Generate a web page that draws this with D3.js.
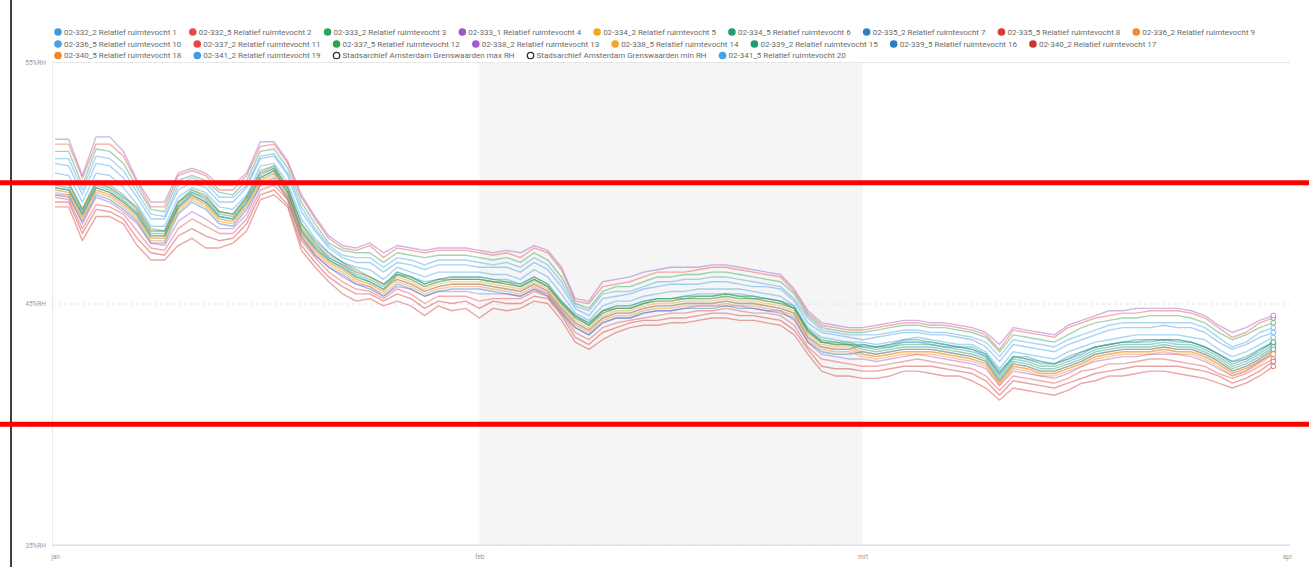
<!DOCTYPE html>
<html><head><meta charset="utf-8">
<script src="https://cdn.jsdelivr.net/npm/d3@7"></script>
<style>
body{margin:0;background:#fff;}
svg{display:block;font-family:Roboto,"Noto Sans",sans-serif;}
</style>
</head><body>
<svg id="chart" width="1309" height="567"></svg>
<script>
// ---------- categories / ticks ----------
const firstDay = new Date(2023, 0, 1);
const lastDayExcl = new Date(2023, 3, 1);
const monthTicks = [new Date(2023,0,1), new Date(2023,1,1), new Date(2023,2,1), new Date(2023,3,1)];
const monthLabels = ["jan", "feb", "mrt", "apr"];
const yTicks = [35, 40, 45, 50, 55];
const yTickLabels = ["35%RH", "40%RH", "45%RH", "50%RH", "55%RH"];

const seriesNames = [
 "02-332_2 Relatief ruimtevocht 1","02-332_5 Relatief ruimtevocht 2","02-333_2 Relatief ruimtevocht 3",
 "02-333_1 Relatief ruimtevocht 4","02-334_2 Relatief ruimtevocht 5","02-334_5 Relatief ruimtevocht 6",
 "02-335_2 Relatief ruimtevocht 7","02-335_5 Relatief ruimtevocht 8","02-336_2 Relatief ruimtevocht 9",
 "02-336_5 Relatief ruimtevocht 10","02-337_2 Relatief ruimtevocht 11","02-337_5 Relatief ruimtevocht 12",
 "02-338_2 Relatief ruimtevocht 13","02-338_5 Relatief ruimtevocht 14","02-339_2 Relatief ruimtevocht 15",
 "02-339_5 Relatief ruimtevocht 16","02-340_2 Relatief ruimtevocht 17","02-340_5 Relatief ruimtevocht 18",
 "02-341_2 Relatief ruimtevocht 19","02-341_5 Relatief ruimtevocht 20"];
const seriesColors = ["#3f9be0","#e84a4a","#2fa35a","#9b59c8","#f5a524","#1f9e6e","#2f7ec4","#d83a34","#f28a2a","#4aa0e0",
 "#e84646","#2ea152","#a15ad0","#f2a330","#1b9b72","#2a7bc0","#c93530","#ef8a2b","#3d9be6","#3ea5e6"];
const limitNames = ["Stadsarchief Amsterdam Grenswaarden max RH", "Stadsarchief Amsterdam Grenswaarden min RH"];
const limitMax = 50;
const limitMin = 40;

// ---------- series values (%RH, one per day, 1 jan .. 31 mrt) ----------
const s1 = [50.1,50.0,48.9,50.1,49.9,49.5,48.9,48.0,48.0,49.2,49.6,49.4,48.8,48.7,49.4,50.4,50.6,49.8,48.3,47.5,46.9,46.6,46.3,46.1,45.8,
 46.3,46.1,45.9,46.0,46.1,46.1,46.1,46.0,46.0,45.8,46.1,45.8,45.1,44.5,44.2,44.7,44.9,44.9,45.1,45.2,45.2,45.3,45.4,45.4,45.4,45.4,45.3,45.2,45.1,44.8,43.9,43.4,43.3,43.3,
 43.2,43.2,43.2,43.4,43.4,43.3,43.2,43.2,43.1,42.8,42.1,42.8,42.7,42.6,42.5,42.7,43.0,43.2,43.3,43.4,43.4,43.5,43.5,43.5,43.4,43.2,42.9,42.6,42.7,43.1,43.4];
const s2 = [51.6,51.6,50.2,51.6,51.6,51.1,50.0,49.0,49.0,50.3,50.5,50.3,49.7,49.7,50.3,51.5,51.6,50.8,49.4,48.5,47.7,47.3,47.2,47.4,46.9,
 47.3,47.2,47.1,47.2,47.2,47.2,47.1,47.0,47.1,46.9,47.3,47.1,46.4,45.1,45.0,45.7,45.8,45.9,46.1,46.3,46.3,46.3,46.4,46.5,46.5,46.4,46.3,46.2,46.1,45.5,44.6,44.1,44.0,43.9,
 43.9,44.0,44.1,44.2,44.2,44.1,44.1,44.0,43.9,43.7,43.1,43.9,43.8,43.7,43.6,44.0,44.2,44.4,44.5,44.6,44.6,44.7,44.7,44.7,44.6,44.4,44.0,43.6,43.8,44.2,44.4];
const s3 = [51.3,51.3,49.9,51.4,51.3,50.8,49.8,48.9,48.8,50.1,50.3,50.1,49.6,49.5,50.1,51.3,51.4,50.6,49.2,48.3,47.5,47.2,47.1,47.1,46.7,
 47.1,47.0,46.9,47.0,47.0,47.0,46.9,46.8,46.9,46.7,47.1,46.8,46.1,45.0,44.8,45.5,45.7,45.7,45.9,46.1,46.1,46.2,46.2,46.3,46.3,46.2,46.1,46.0,45.9,45.4,44.5,44.0,43.9,43.8,
 43.8,43.9,44.0,44.1,44.1,44.0,44.0,43.9,43.8,43.6,43.0,43.7,43.6,43.5,43.4,43.7,44.0,44.2,44.3,44.4,44.4,44.5,44.5,44.5,44.4,44.2,43.8,43.5,43.7,44.0,44.2];
const s4 = [51.8,51.8,50.3,51.9,51.9,51.3,50.1,49.2,49.2,50.4,50.6,50.4,49.9,49.9,50.4,51.7,51.7,50.9,49.5,48.6,47.8,47.4,47.3,47.5,47.1,
 47.4,47.3,47.2,47.3,47.3,47.3,47.2,47.1,47.2,47.1,47.4,47.2,46.5,45.2,45.1,45.9,46.0,46.1,46.3,46.4,46.5,46.5,46.5,46.6,46.6,46.5,46.4,46.3,46.2,45.6,44.7,44.2,44.1,44.0,
 44.0,44.1,44.2,44.3,44.3,44.2,44.2,44.1,44.0,43.8,43.3,44.0,43.9,43.8,43.7,44.1,44.3,44.5,44.7,44.7,44.8,44.8,44.8,44.8,44.7,44.5,44.1,43.8,44.0,44.3,44.5];
const s5 = [49.7,49.6,48.6,49.7,49.5,49.1,48.6,47.7,47.7,48.9,49.4,49.1,48.5,48.4,49.1,50.1,50.4,49.5,47.9,47.2,46.7,46.4,46.0,45.8,45.5,
 46.2,46.0,45.7,45.9,46.0,46.0,46.0,45.9,45.8,45.7,46.0,45.7,45.0,44.4,44.1,44.6,44.8,44.8,45.0,45.1,45.1,45.2,45.2,45.2,45.3,45.2,45.2,45.1,45.0,44.8,43.8,43.4,43.3,43.3,
 42.9,42.8,42.9,43.0,43.0,43.0,42.9,42.8,42.7,42.5,41.7,42.4,42.3,42.1,42.1,42.3,42.5,42.8,42.9,43.0,43.0,43.0,43.1,43.0,43.0,42.8,42.5,42.1,42.3,42.6,43.0];
const s6 = [49.9,49.8,48.8,49.9,49.7,49.3,48.8,47.9,47.9,49.1,49.6,49.3,48.7,48.6,49.3,50.3,50.6,49.7,48.1,47.4,46.9,46.6,46.2,46.0,45.7,
 46.3,46.1,45.8,46.0,46.1,46.1,46.1,46.0,45.9,45.8,46.1,45.8,45.1,44.5,44.2,44.7,44.9,44.9,45.1,45.2,45.2,45.3,45.3,45.3,45.4,45.3,45.3,45.2,45.1,44.9,43.9,43.5,43.4,43.4,
 43.2,43.1,43.2,43.3,43.3,43.3,43.2,43.1,43.0,42.8,42.0,42.7,42.6,42.4,42.4,42.6,42.8,43.1,43.2,43.3,43.3,43.3,43.4,43.3,43.3,43.1,42.8,42.4,42.6,42.9,43.3];
const s7 = [49.8,49.7,48.7,49.8,49.6,49.2,48.7,47.8,47.8,49.0,49.5,49.2,48.6,48.5,49.2,50.2,50.5,49.6,48.0,47.3,46.8,46.5,46.1,45.9,45.6,
 46.0,45.8,45.5,45.7,45.8,45.8,45.8,45.7,45.6,45.5,45.8,45.5,44.8,44.2,43.9,44.4,44.6,44.6,44.8,44.9,44.9,45.0,45.0,45.0,45.1,45.0,45.0,44.9,44.8,44.6,43.6,43.2,43.1,43.1,
 43.3,43.2,43.3,43.4,43.4,43.4,43.3,43.2,43.1,42.9,42.1,42.8,42.7,42.5,42.5,42.7,42.9,43.2,43.3,43.4,43.4,43.4,43.5,43.4,43.4,43.2,42.9,42.5,42.7,43.0,43.4];
const s8 = [49.0,49.0,47.6,48.6,48.6,48.3,47.4,46.8,46.8,47.4,47.7,47.3,47.3,47.5,48.0,49.3,49.5,49.0,47.2,46.5,45.9,45.4,45.1,45.2,44.9,
 45.1,44.9,44.5,44.9,44.7,44.8,44.4,44.8,44.7,44.8,45.1,45.0,44.3,43.4,43.1,43.5,43.8,44.0,44.1,44.1,44.2,44.2,44.3,44.4,44.4,44.3,44.3,44.2,44.1,43.7,42.9,42.2,42.0,42.0,
 41.9,41.9,42.0,42.2,42.2,42.1,42.0,42.0,41.8,41.5,41.0,41.5,41.4,41.3,41.2,41.4,41.7,41.8,42.0,42.0,42.1,42.2,42.2,42.1,42.0,41.9,41.7,41.5,41.7,42.0,42.4];
const s9 = [50.0,49.9,48.9,50.0,49.8,49.4,48.9,48.0,48.0,49.2,49.7,49.4,48.8,48.7,49.4,50.4,50.7,49.8,48.2,47.5,47.0,46.7,46.3,46.1,45.8,
 46.0,45.8,45.5,45.7,45.8,45.8,45.8,45.7,45.6,45.5,45.8,45.5,44.8,44.2,43.9,44.4,44.6,44.6,44.8,44.9,44.9,45.0,45.0,45.0,45.1,45.0,45.0,44.9,44.8,44.6,43.6,43.2,43.1,43.1,
 42.9,42.8,42.9,43.0,43.0,43.0,42.9,42.8,42.7,42.5,41.7,42.4,42.3,42.1,42.1,42.3,42.5,42.8,42.9,43.0,43.0,43.0,43.1,43.0,43.0,42.8,42.5,42.1,42.3,42.6,43.0];
const s10 = [51.0,51.0,49.7,51.1,51.0,50.5,49.6,48.7,48.6,49.9,50.2,50.0,49.4,49.4,49.9,51.1,51.2,50.4,49.0,48.1,47.4,47.0,46.9,46.9,46.5,
 46.9,46.8,46.6,46.8,46.8,46.8,46.7,46.6,46.7,46.5,46.9,46.6,45.9,44.9,44.7,45.4,45.5,45.5,45.7,45.9,45.9,46.0,46.0,46.1,46.1,46.0,45.9,45.8,45.7,45.2,44.4,43.9,43.8,43.7,
 43.7,43.7,43.8,43.9,43.9,43.8,43.8,43.7,43.6,43.4,42.8,43.5,43.4,43.3,43.2,43.5,43.7,43.9,44.1,44.2,44.2,44.2,44.2,44.2,44.2,44.0,43.6,43.2,43.4,43.8,44.0];
const s11 = [49.4,49.3,48.1,49.1,49.0,48.7,48.0,47.3,47.2,48.1,48.5,48.2,47.9,47.9,48.5,49.7,49.9,49.3,47.6,46.9,46.3,45.9,45.6,45.5,45.2,
 45.6,45.4,45.0,45.3,45.3,45.3,45.1,45.2,45.2,45.2,45.5,45.3,44.6,43.8,43.5,44.0,44.2,44.3,44.4,44.5,44.6,44.6,44.7,44.7,44.8,44.7,44.6,44.6,44.5,44.1,43.2,42.7,42.6,42.5,
 42.4,42.4,42.5,42.6,42.7,42.6,42.5,42.4,42.3,42.0,41.4,42.0,41.9,41.8,41.7,41.9,42.2,42.3,42.5,42.5,42.6,42.7,42.7,42.6,42.5,42.4,42.1,41.9,42.1,42.4,42.7];
const s12 = [50.0,50.0,48.9,50.0,49.8,49.4,49.0,48.1,48.0,49.2,49.7,49.5,48.8,48.7,49.4,50.5,50.7,49.8,48.3,47.6,47.1,46.7,46.4,46.1,45.8,
 46.2,46.1,45.8,46.0,46.0,46.0,46.0,45.9,45.9,45.7,46.0,45.7,45.0,44.5,44.1,44.7,44.8,44.8,45.0,45.2,45.2,45.2,45.3,45.3,45.4,45.3,45.2,45.2,45.1,44.8,43.9,43.4,43.4,43.3,
 43.3,43.2,43.3,43.5,43.5,43.4,43.3,43.2,43.2,42.9,42.2,42.8,42.8,42.6,42.5,42.8,43.0,43.2,43.3,43.4,43.5,43.5,43.5,43.5,43.4,43.2,42.9,42.6,42.8,43.1,43.4];
const s13 = [49.5,49.5,48.3,49.4,49.2,48.8,48.3,47.5,47.4,48.4,48.8,48.5,48.1,48.1,48.7,49.9,50.1,49.4,47.8,47.0,46.5,46.1,45.8,45.7,45.3,
 45.7,45.6,45.3,45.5,45.5,45.5,45.4,45.4,45.4,45.3,45.6,45.4,44.7,44.0,43.7,44.2,44.4,44.4,44.6,44.7,44.7,44.8,44.9,44.9,44.9,44.9,44.8,44.7,44.7,44.3,43.4,42.9,42.8,42.7,
 42.7,42.6,42.7,42.8,42.9,42.8,42.7,42.6,42.5,42.3,41.6,42.2,42.1,42.0,41.9,42.1,42.4,42.6,42.7,42.8,42.8,42.9,42.9,42.9,42.8,42.6,42.3,42.0,42.2,42.6,42.9];
const s14 = [49.7,49.6,48.6,49.7,49.5,49.1,48.6,47.7,47.7,48.9,49.4,49.1,48.5,48.4,49.1,50.1,50.4,49.5,47.9,47.2,46.7,46.4,46.0,45.8,45.5,
 46.1,45.9,45.6,45.8,45.9,45.9,45.9,45.8,45.7,45.6,45.9,45.6,44.9,44.3,44.0,44.5,44.7,44.7,44.9,45.0,45.0,45.1,45.1,45.1,45.2,45.1,45.1,45.0,44.9,44.7,43.7,43.3,43.2,43.2,
 43.0,42.9,43.0,43.1,43.1,43.1,43.0,42.9,42.8,42.6,41.8,42.5,42.4,42.2,42.2,42.4,42.6,42.9,43.0,43.1,43.1,43.1,43.2,43.1,43.1,42.9,42.6,42.2,42.4,42.7,43.1];
const s15 = [49.8,49.7,48.7,49.8,49.6,49.2,48.7,47.8,47.8,49.0,49.5,49.2,48.6,48.5,49.2,50.2,50.5,49.6,48.0,47.3,46.8,46.5,46.1,45.9,45.6,
 46.2,46.0,45.7,45.9,46.0,46.0,46.0,45.9,45.8,45.7,46.0,45.7,45.0,44.4,44.1,44.6,44.8,44.8,45.0,45.1,45.1,45.2,45.2,45.2,45.3,45.2,45.2,45.1,45.0,44.8,43.8,43.4,43.3,43.3,
 43.1,43.0,43.1,43.2,43.2,43.2,43.1,43.0,42.9,42.7,41.9,42.6,42.5,42.3,42.3,42.5,42.7,43.0,43.1,43.2,43.2,43.2,43.3,43.2,43.2,43.0,42.7,42.3,42.5,42.8,43.2];
const s16 = [49.5,49.4,48.4,49.5,49.3,48.9,48.4,47.5,47.5,48.7,49.2,48.9,48.3,48.2,48.9,49.9,50.2,49.3,47.7,47.0,46.5,46.2,45.8,45.6,45.3,
 45.8,45.6,45.3,45.5,45.6,45.6,45.6,45.5,45.4,45.3,45.6,45.3,44.6,44.0,43.7,44.2,44.4,44.4,44.6,44.7,44.7,44.8,44.8,44.8,44.9,44.8,44.8,44.7,44.6,44.4,43.4,43.0,42.9,42.9,
 43.0,42.9,43.0,43.1,43.1,43.1,43.0,42.9,42.8,42.6,41.8,42.5,42.4,42.2,42.2,42.4,42.6,42.9,43.0,43.1,43.1,43.1,43.2,43.1,43.1,42.9,42.6,42.2,42.4,42.7,43.1];
const s17 = [49.2,49.2,47.9,48.9,48.8,48.5,47.7,47.1,47.0,47.8,48.1,47.8,47.6,47.7,48.3,49.5,49.7,49.1,47.4,46.7,46.1,45.7,45.4,45.4,45.1,
 45.4,45.2,44.8,45.1,45.0,45.1,44.8,45.1,45.0,45.0,45.3,45.2,44.5,43.6,43.3,43.8,44.0,44.2,44.3,44.3,44.4,44.4,44.5,44.6,44.6,44.5,44.5,44.4,44.3,43.9,43.1,42.4,42.3,42.3,
 42.2,42.2,42.3,42.4,42.4,42.4,42.3,42.2,42.1,41.8,41.2,41.8,41.7,41.6,41.5,41.7,41.9,42.1,42.2,42.3,42.4,42.4,42.4,42.4,42.3,42.2,42.0,41.7,41.9,42.2,42.6];
const s18 = [49.6,49.5,48.5,49.6,49.4,49.0,48.5,47.6,47.6,48.8,49.3,49.0,48.4,48.3,49.0,50.0,50.3,49.4,47.8,47.1,46.6,46.3,45.9,45.7,45.4,
 45.9,45.7,45.4,45.6,45.7,45.7,45.7,45.6,45.5,45.4,45.7,45.4,44.7,44.1,43.8,44.3,44.5,44.5,44.7,44.8,44.8,44.9,44.9,44.9,45.0,44.9,44.9,44.8,44.7,44.5,43.5,43.1,43.0,43.0,
 42.8,42.7,42.8,42.9,42.9,42.9,42.8,42.7,42.6,42.4,41.6,42.3,42.2,42.0,42.0,42.2,42.4,42.7,42.8,42.9,42.9,42.9,43.0,42.9,42.9,42.7,42.4,42.0,42.2,42.5,42.9];
const s19 = [50.8,50.7,49.5,50.8,50.7,50.2,49.4,48.5,48.5,49.7,50.0,49.8,49.2,49.2,49.8,51.0,51.1,50.3,48.8,48.0,47.3,46.9,46.7,46.7,46.3,
 46.7,46.6,46.4,46.6,46.6,46.6,46.5,46.5,46.5,46.3,46.7,46.4,45.7,44.8,44.5,45.2,45.3,45.4,45.6,45.7,45.8,45.8,45.8,45.9,45.9,45.8,45.7,45.7,45.6,45.1,44.2,43.8,43.7,43.6,
 43.5,43.6,43.7,43.8,43.8,43.7,43.7,43.6,43.5,43.2,42.6,43.3,43.2,43.1,43.0,43.3,43.5,43.7,43.9,44.0,44.0,44.0,44.1,44.0,44.0,43.8,43.4,43.1,43.3,43.6,43.8];
const s20 = [50.4,50.3,49.2,50.4,50.3,49.8,49.1,48.2,48.2,49.4,49.8,49.6,49.0,48.9,49.5,50.7,50.8,50.0,48.5,47.7,47.1,46.7,46.5,46.4,46.0,
 46.5,46.3,46.1,46.3,46.3,46.3,46.3,46.2,46.2,46.0,46.4,46.1,45.4,44.6,44.3,44.9,45.1,45.1,45.3,45.4,45.5,45.5,45.6,45.6,45.6,45.6,45.5,45.4,45.3,44.9,44.0,43.6,43.5,43.4,
 43.4,43.3,43.4,43.5,43.6,43.5,43.4,43.3,43.3,43.0,42.3,43.0,42.9,42.8,42.7,43.0,43.2,43.4,43.5,43.6,43.7,43.7,43.7,43.7,43.6,43.5,43.1,42.8,43.0,43.3,43.6];

const seriesValues = [s1,s2,s3,s4,s5,s6,s7,s8,s9,s10,s11,s12,s13,s14,s15,s16,s17,s18,s19,s20];

// ---------- drawing ----------
const W = 1309, H = 567;
const svg = d3.select("#chart");
const days = d3.timeDay.range(firstDay, lastDayExcl);

const plot = {left: 52, right: 1290, top: 62, bottom: 545};
const x = d3.scaleTime().domain([firstDay, lastDayExcl]).range([55, 1287]);
const y = d3.scaleLinear().domain([35, 55]).range([545, 62]);

// outer left black frame line
svg.append("line").attr("x1", 11).attr("x2", 11).attr("y1", 0).attr("y2", H)
  .attr("stroke", "#111").attr("stroke-width", 1.6);

// february band
svg.append("rect")
  .attr("x", x(monthTicks[1])).attr("y", plot.top)
  .attr("width", x(monthTicks[2]) - x(monthTicks[1])).attr("height", plot.bottom - plot.top)
  .attr("fill", "#f5f5f5");

// horizontal grid
const yAxis = d3.axisLeft(y).tickValues(yTicks).tickSize(-(plot.right - plot.left))
  .tickFormat((d, i) => yTickLabels[i]);
const gy = svg.append("g").attr("transform", `translate(${plot.left},0)`).call(yAxis);
gy.select(".domain").attr("stroke", "#ececec");
gy.selectAll(".tick line").attr("stroke", "#e2e2e2").attr("stroke-dasharray", "3,3");
gy.selectAll(".tick text").attr("x", -6).attr("fill", "#9a9a9a").attr("font-size", 6.5)
  .attr("font-family", "Roboto, sans-serif");

// x axis
const xAxis = d3.axisBottom(x).tickValues(monthTicks).tickSize(0)
  .tickFormat((d, i) => monthLabels[i]);
const gx = svg.append("g").attr("transform", `translate(0,${plot.bottom})`).call(xAxis);
gx.select(".domain").attr("d", `M${plot.left},0H${plot.right}`).attr("stroke", "#dcdcdc");
gx.selectAll(".tick text").attr("dy", 11).attr("fill", "#9a9a9a").attr("font-size", 6.5)
  .attr("font-family", "Roboto, sans-serif");

// data lines
const line = d3.line().x((d, i) => x(days[i])).y(d => y(d));
const gLines = svg.append("g");
seriesValues.forEach((vals, k) => {
  gLines.append("path").datum(vals)
    .attr("d", line).attr("fill", "none")
    .attr("stroke", seriesColors[k]).attr("stroke-width", 1.4)
    .attr("stroke-opacity", 0.45).attr("stroke-linejoin", "round");
});
// end markers
seriesValues.forEach((vals, k) => {
  const n = vals.length - 1;
  gLines.append("circle").attr("cx", x(days[n])).attr("cy", y(vals[n])).attr("r", 2.4)
    .attr("fill", "#fff").attr("stroke", seriesColors[k]).attr("stroke-opacity", 0.7)
    .attr("stroke-width", 1);
});

// limit lines (max / min RH), drawn red across the full width
[limitMax, limitMin].forEach(v => {
  svg.append("line").attr("x1", 0).attr("x2", W).attr("y1", y(v)).attr("y2", y(v))
    .attr("stroke", "#ff0000").attr("stroke-width", 5);
});

// legend
const legendItems = [];
seriesNames.forEach((n, i) => { if (i < 19) legendItems.push({name: n, color: seriesColors[i], hollow: false}); });
legendItems.push({name: limitNames[0], color: "#333", hollow: true});
legendItems.push({name: limitNames[1], color: "#333", hollow: true});
legendItems.push({name: seriesNames[19], color: seriesColors[19], hollow: false});

const gLeg = svg.append("g");
let cx = 58, row = 0;
const rowY = [32, 44, 55.5];
const maxRight = 1266;
legendItems.forEach(it => {
  const g = gLeg.append("g");
  const t = g.append("text").text(it.name).attr("font-size", 8).attr("fill", "#6a6a6a")
    .attr("dominant-baseline", "central");
  const tw = t.node().getComputedTextLength();
  if (cx + 6 + tw > maxRight) { row += 1; cx = 58; }
  t.attr("x", cx + 6).attr("y", rowY[row]);
  if (it.hollow) {
    g.append("circle").attr("cx", cx).attr("cy", rowY[row]).attr("r", 3.2)
      .attr("fill", "#fff").attr("stroke", it.color).attr("stroke-width", 1.3);
  } else {
    g.append("circle").attr("cx", cx).attr("cy", rowY[row]).attr("r", 3.8).attr("fill", it.color);
  }
  cx = cx + 6 + tw + 16;
});
</script>
</body></html>
